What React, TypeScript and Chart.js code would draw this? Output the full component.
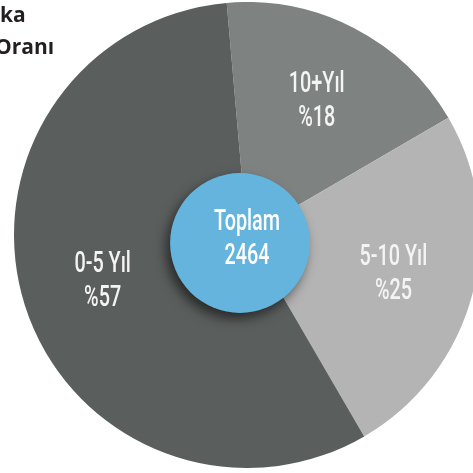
import React, { useEffect, useRef } from "react";
import { Chart, registerables } from "chart.js";

Chart.register(...registerables);

const categories = ["10+Yıl", "5-10 Yıl", "0-5 Yıl"];
const shares = [18, 25, 57];
const sliceColors = ["#7e8381", "#b4b4b4", "#5a5e5d"];
const totalLabel = "Toplam";
const totalValue = 2464;
const titleLines = ["ka", "Oranı"];

const LABEL_FONT = '500 30px Roboto, "DejaVu Sans", sans-serif';
const SQUEEZE = 0.66;

function drawSqueezed(ctx: CanvasRenderingContext2D, text: string, x: number, y: number) {
  ctx.save();
  ctx.translate(x, y);
  ctx.scale(SQUEEZE, 1);
  ctx.fillText(text, 0, 0);
  ctx.restore();
}

const overlayPlugin = {
  id: "overlay",
  afterDatasetsDraw(chart: any) {
    const ctx: CanvasRenderingContext2D = chart.ctx;
    const meta = chart.getDatasetMeta(0);
    ctx.save();
    ctx.font = LABEL_FONT;
    ctx.textAlign = "center";
    ctx.textBaseline = "alphabetic";
    ctx.fillStyle = "#f4f4f4";
    meta.data.forEach((arc: any, i: number) => {
      const p = arc.getProps(["x", "y", "startAngle", "endAngle", "outerRadius"], true);
      const mid = (p.startAngle + p.endAngle) / 2;
      const r = p.outerRadius * 0.65;
      const lx = p.x + Math.cos(mid) * r;
      const ly = p.y + Math.sin(mid) * r;
      drawSqueezed(ctx, categories[i], lx, ly - 9);
      drawSqueezed(ctx, "%" + shares[i], lx, ly + 25);
    });
    // center circle
    const a0 = meta.data[0].getProps(["x", "y", "outerRadius"], true);
    const ccx = a0.x - 7;
    const ccy = a0.y + 8;
    const cr = a0.outerRadius * 0.3;
    ctx.save();
    ctx.shadowColor = "rgba(0,0,0,0.55)";
    ctx.shadowBlur = 12;
    ctx.shadowOffsetX = -4;
    ctx.shadowOffsetY = 6;
    ctx.beginPath();
    ctx.arc(ccx, ccy, cr, 0, Math.PI * 2);
    ctx.fillStyle = "#64b4dd";
    ctx.fill();
    ctx.restore();
    ctx.fillStyle = "#ffffff";
    drawSqueezed(ctx, totalLabel, a0.x, a0.y - 5);
    drawSqueezed(ctx, String(totalValue), a0.x, a0.y + 29);
    ctx.restore();
  },
};

export default function App() {
  const ref = useRef<HTMLCanvasElement | null>(null);
  useEffect(() => {
    if (!ref.current) return;
    const chart = new Chart(ref.current, {
      type: "pie",
      data: {
        labels: categories,
        datasets: [
          {
            data: shares,
            backgroundColor: sliceColors,
            borderWidth: 0,
          },
        ],
      },
      options: {
        animation: false,
        responsive: false,
        rotation: -5,
        layout: { padding: 0 },
        plugins: {
          legend: { display: false },
          tooltip: { enabled: false },
          title: { display: false },
        },
      },
      plugins: [overlayPlugin],
    });
    return () => chart.destroy();
  }, []);

  const titleStyle: React.CSSProperties = {
    position: "absolute",
    font: 'bold 21px "Open Sans", sans-serif',
    color: "#231f20",
    whiteSpace: "nowrap",
    lineHeight: "21px",
  };

  return (
    <div
      style={{
        position: "fixed",
        left: 0,
        top: 0,
        width: 473,
        height: 473,
        overflow: "hidden",
        background: "#ffffff",
      }}
    >
      <canvas
        ref={ref}
        width={466}
        height={466}
        style={{ position: "absolute", left: 14, top: 2, width: 466, height: 466 }}
      />
      <div style={{ ...titleStyle, left: 0, top: 4 }}>{titleLines[0]}</div>
      <div style={{ ...titleStyle, left: -5, top: 36 }}>{titleLines[1]}</div>
    </div>
  );
}
